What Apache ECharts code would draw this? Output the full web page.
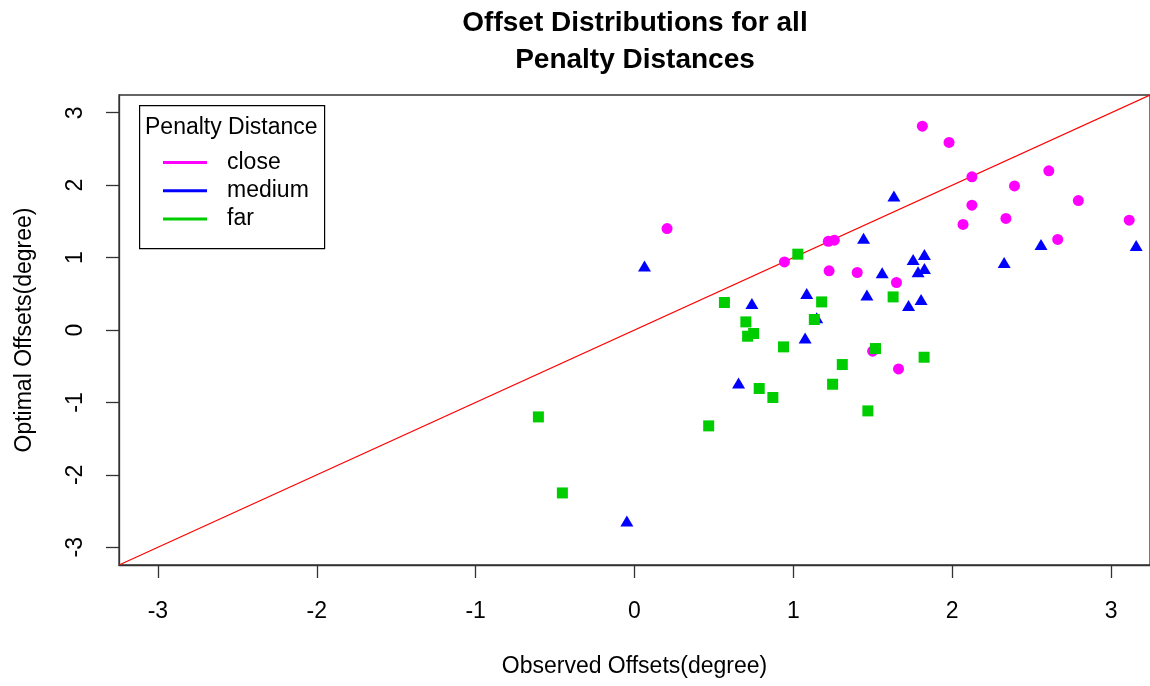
<!DOCTYPE html>
<html>
<head>
<meta charset="utf-8">
<script src="https://cdn.jsdelivr.net/npm/echarts@6/dist/echarts.min.js"></script>
<style>
  html, body { margin: 0; padding: 0; background: #ffffff; }
  #chart { width: 1150px; height: 686px; }
</style>
</head>
<body>
<div id="chart"></div>
<script>
// Observed vs optimal offsets (degrees), grouped by penalty distance
const closeObserved  = [0.205, 0.944, 1.220, 1.258, 1.225, 1.402, 1.649, 1.499, 1.662, 1.812, 1.980, 2.124, 2.124, 2.068, 2.392, 2.338, 2.608, 2.664, 2.794, 3.114];
const closeOptimal   = [1.400, 0.940, 1.225, 1.240, 0.817, 0.794, 0.656, -0.293, -0.537, 2.815, 2.590, 2.115, 1.724, 1.457, 1.990, 1.540, 2.198, 1.250, 1.788, 1.517];

const mediumObserved = [0.063, 1.633, 1.442, 1.559, 1.084, 1.463, 0.739, 1.147, 1.074, 2.559, 3.158, 2.327, 1.754, 1.825, 1.785, 1.825, 1.804, 1.725, 0.655, -0.048];
const mediumOptimal  = [0.885, 1.852, 1.268, 0.789, 0.504, 0.485, 0.366, 0.170, -0.109, 1.181, 1.167, 0.932, 0.974, 1.043, 0.803, 0.849, 0.421, 0.338, -0.731, -2.637];

const farObserved    = [1.028, 0.566, 1.178, 1.628, 0.701, 1.132, 0.750, 0.712, 0.938, 1.517, 1.823, 1.308, 1.247, 0.785, 0.871, 1.469, -0.605, 0.467, -0.454];
const farOptimal     = [1.047, 0.380, 0.388, 0.457, 0.112, 0.145, -0.048, -0.086, -0.233, -0.256, -0.376, -0.477, -0.749, -0.808, -0.932, -1.117, -1.200, -1.324, -2.250];

const groupNames  = ['close', 'medium', 'far'];
const groupColors = ['#ff00ff', '#0000ff', '#00cd00'];

const xTicks = [-3, -2, -1, 0, 1, 2, 3];
const yTicks = [-3, -2, -1, 0, 1, 2, 3];
const axisLimit = 3.245;

const font = "'Liberation Sans', Arial, sans-serif";
const fontSize = 23;

function pairs(xs, ys) {
  return xs.map((x, i) => [x, ys[i]]);
}

const chart = echarts.init(document.getElementById('chart'), null, { renderer: 'canvas' });

chart.setOption({
  animation: false,
  backgroundColor: '#ffffff',
  title: {
    text: 'Offset Distributions for all\nPenalty Distances',
    left: 630,
    textAlign: 'center',
    top: 0,
    textStyle: {
      fontFamily: font,
      fontWeight: 'bold',
      fontSize: 28,
      lineHeight: 37,
      color: '#000000'
    }
  },
  grid: {
    left: 119,
    top: 95,
    width: 1034,
    height: 470,
    show: true,
    borderColor: '#333333',
    borderWidth: 1.3,
    backgroundColor: 'transparent'
  },
  legend: {
    data: groupNames,
    orient: 'vertical',
    left: 163,
    top: 151,
    icon: 'rect',
    itemWidth: 44,
    itemHeight: 3,
    itemGap: 5.3,
    padding: 0,
    selectedMode: false,
    textStyle: {
      fontFamily: font,
      fontSize: fontSize,
      lineHeight: 23,
      color: '#000000',
      padding: [0, 0, 0, 15]
    }
  },
  graphic: [
    {
      type: 'rect',
      left: 139,
      top: 105,
      z: -1,
      shape: { width: 185, height: 143 },
      style: { fill: '#ffffff', stroke: '#000000', lineWidth: 1.2 }
    },
    {
      type: 'text',
      left: 145,
      top: 116,
      style: {
        text: 'Penalty Distance',
        fontFamily: font,
        fontSize: fontSize,
        fill: '#000000'
      }
    }
  ],
  xAxis: {
    type: 'value',
    min: -axisLimit,
    max: axisLimit,
    name: 'Observed Offsets(degree)',
    nameLocation: 'middle',
    nameGap: 90,
    nameTextStyle: { fontFamily: font, fontSize: fontSize, color: '#000000' },
    splitLine: { show: false },
    axisLine: { show: true, onZero: false, lineStyle: { color: '#333333', width: 1.3 } },
    axisTick: {
      show: true,
      length: 13,
      customValues: xTicks,
      lineStyle: { color: '#333333', width: 1.3 }
    },
    axisLabel: {
      customValues: xTicks,
      margin: 35,
      fontFamily: font,
      fontSize: fontSize,
      color: '#000000'
    }
  },
  yAxis: {
    type: 'value',
    min: -axisLimit,
    max: axisLimit,
    name: 'Optimal Offsets(degree)',
    nameLocation: 'middle',
    nameGap: 83,
    nameRotate: 90,
    nameTextStyle: { fontFamily: font, fontSize: fontSize, color: '#000000' },
    splitLine: { show: false },
    axisLine: { show: true, onZero: false, lineStyle: { color: '#333333', width: 1.3 } },
    axisTick: {
      show: true,
      length: 13,
      customValues: yTicks,
      lineStyle: { color: '#333333', width: 1.3 }
    },
    axisLabel: {
      customValues: yTicks,
      rotate: 90,
      margin: 32,
      fontFamily: font,
      fontSize: fontSize,
      color: '#000000'
    }
  },
  series: [
    {
      name: 'y = x',
      type: 'line',
      data: [[-axisLimit, -axisLimit], [axisLimit, axisLimit]],
      showSymbol: false,
      silent: true,
      z: 1,
      lineStyle: { color: '#ff0000', width: 1.2 }
    },
    {
      name: groupNames[0],
      type: 'scatter',
      symbol: 'circle',
      symbolSize: 11,
      z: 2,
      itemStyle: { color: groupColors[0], opacity: 1 },
      data: pairs(closeObserved, closeOptimal)
    },
    {
      name: groupNames[1],
      type: 'scatter',
      symbol: 'triangle',
      symbolSize: [13, 11],
      z: 3,
      itemStyle: { color: groupColors[1], opacity: 1 },
      data: pairs(mediumObserved, mediumOptimal)
    },
    {
      name: groupNames[2],
      type: 'scatter',
      symbol: 'rect',
      symbolSize: 11,
      z: 4,
      itemStyle: { color: groupColors[2], opacity: 1 },
      data: pairs(farObserved, farOptimal)
    }
  ]
});
</script>
</body>
</html>
